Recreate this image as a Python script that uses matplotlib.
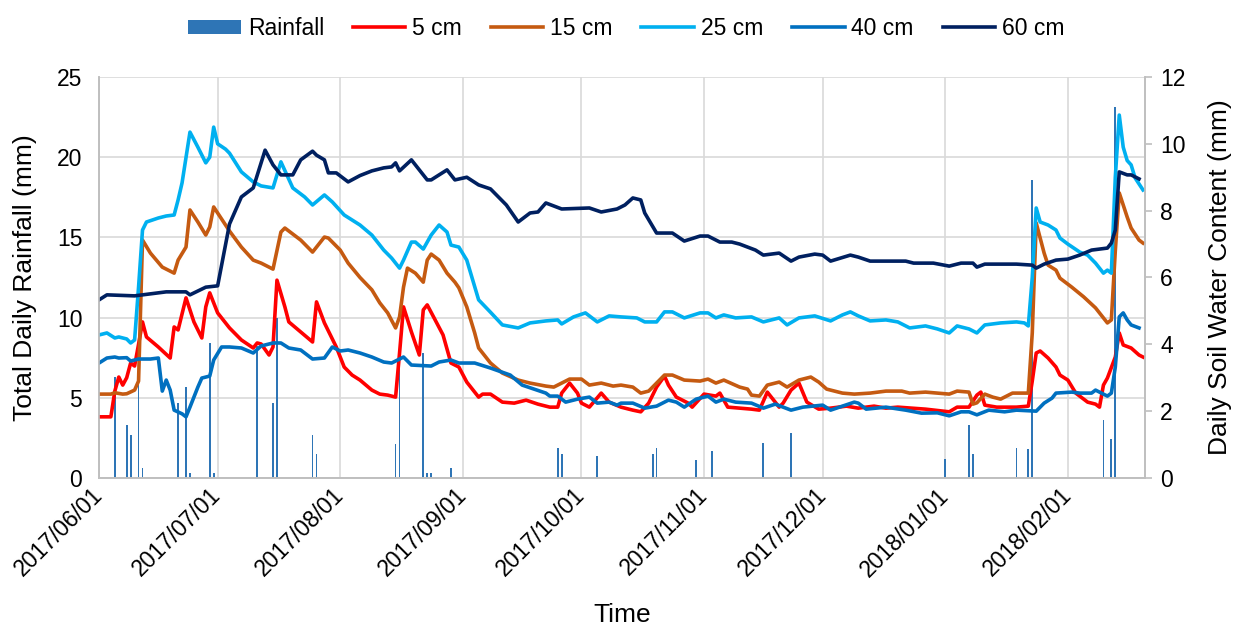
import matplotlib
matplotlib.use('Agg')
import matplotlib.pyplot as plt
import matplotlib.dates as mdates
import numpy as np

plt.rcParams['font.family'] = ['Liberation Sans', 'DejaVu Sans']

start = np.datetime64('2017-06-01')

# Rainfall (mm), day offsets from 2017/06/01
rain_days = [4, 7, 8, 10, 11, 20, 22, 23, 28, 29, 40, 44, 45, 54, 55, 75, 76, 82, 83, 84, 89,
             116, 117, 126, 140, 141, 151, 155, 168, 175, 214, 220, 221, 232, 235, 236, 254, 256, 257]
rain_mm = [6.3, 3.3, 2.7, 6.0, 0.6, 4.7, 5.7, 0.3, 8.4, 0.3, 8.2, 4.7, 10.0, 2.7, 1.5, 2.1, 8.5, 7.8, 0.3, 0.3, 0.6,
           1.9, 1.5, 1.4, 1.5, 1.9, 1.1, 1.7, 2.2, 2.8, 1.2, 3.3, 1.5, 1.9, 1.8, 18.6, 3.6, 2.4, 23.1]

# Soil water content (mm) per depth
d5 = [0, 3, 4, 5, 6, 7, 8, 9, 10, 11, 12, 15, 18, 19, 20, 22, 24, 26, 27, 28, 30, 33, 36, 39, 40, 41, 43, 44,
      45, 47, 48, 51, 54, 55, 57, 60, 62, 64, 66, 69, 71, 73, 75, 76, 77, 79, 81, 82, 83, 85, 87, 89, 91, 93,
      96, 97, 99, 102, 105, 108, 111, 114, 116, 117, 119, 121, 122, 124, 127, 129, 132, 135, 137, 139, 141,
      143, 144, 146, 149, 150, 153, 156, 157, 159, 165, 167, 169, 170, 172, 173, 175, 177, 179, 182, 185,
      189, 192, 196, 199, 202, 209, 215, 217, 220, 222, 223, 224, 227, 232, 235, 236, 237, 238, 240, 242,
      243, 245, 247, 250, 252, 253, 254, 255, 257, 258, 259, 261, 263, 264]
v5 = [1.83, 1.83, 2.6, 3.02, 2.78, 3.0, 3.44, 3.35, 4.0, 4.67, 4.22, 3.92, 3.59, 4.52, 4.43, 5.39, 4.67, 4.19,
      5.12, 5.54, 4.94, 4.49, 4.13, 3.89, 4.04, 4.01, 3.68, 3.92, 5.92, 5.12, 4.67, 4.37, 4.07, 5.27, 4.64,
      3.92, 3.32, 3.08, 2.93, 2.63, 2.51, 2.48, 2.42, 3.74, 5.12, 4.37, 3.68, 5.03, 5.18, 4.73, 4.28, 3.44,
      3.32, 2.87, 2.42, 2.51, 2.51, 2.27, 2.24, 2.33, 2.21, 2.12, 2.12, 2.54, 2.84, 2.54, 2.24, 2.12, 2.54,
      2.27, 2.12, 2.03, 1.98, 2.24, 2.72, 3.05, 2.78, 2.42, 2.24, 2.12, 2.51, 2.45, 2.54, 2.12, 2.06, 2.03,
      2.57, 2.42, 2.12, 2.24, 2.63, 2.84, 2.27, 2.06, 2.09, 2.15, 2.09, 2.15, 2.09, 2.12, 2.06, 1.98, 2.12,
      2.12, 2.48, 2.57, 2.18, 2.12, 2.12, 2.15, 2.9, 3.74, 3.80, 3.59, 3.32, 3.08, 2.93, 2.54, 2.27, 2.21,
      2.12, 2.78, 2.99, 3.62, 4.34, 3.98, 3.89, 3.68, 3.62]

d15 = [0, 3, 4, 6, 7, 9, 10, 11, 13, 16, 19, 20, 22, 23, 25, 27, 28, 29, 30, 33, 36, 39, 41, 44, 46, 47, 51,
       54, 57, 58, 61, 63, 66, 69, 71, 73, 75, 76, 77, 78, 80, 82, 83, 84, 86, 88, 90, 91, 93, 95, 96, 98, 99,
       102, 106, 109, 113, 115, 117, 119, 122, 124, 127, 130, 132, 135, 137, 139, 141, 143, 145, 148, 152,
       154, 156, 158, 162, 164, 165, 167, 169, 172, 174, 177, 180, 182, 184, 188, 191, 195, 199, 203, 205,
       209, 215, 217, 220, 221, 222, 224, 226, 228, 231, 235, 236, 237, 239, 240, 242, 243, 246, 249, 252,
       254, 255, 256, 257, 258, 260, 261, 263, 264]
v15 = [2.51, 2.51, 2.55, 2.51, 2.52, 2.63, 2.9, 7.12, 6.73, 6.31, 6.13, 6.52, 6.91, 8.02, 7.66, 7.27, 7.51,
       8.11, 7.93, 7.39, 6.91, 6.52, 6.43, 6.25, 7.36, 7.48, 7.12, 6.76, 7.21, 7.18, 6.82, 6.43, 6.0, 5.63,
       5.24, 4.94, 4.49, 4.82, 5.71, 6.28, 6.13, 5.86, 6.52, 6.70, 6.52, 6.13, 5.86, 5.69, 5.12, 4.34, 3.89,
       3.59, 3.44, 3.14, 2.93, 2.84, 2.75, 2.72, 2.84, 2.96, 2.96, 2.78, 2.84, 2.75, 2.78, 2.72, 2.54, 2.60,
       2.84, 3.08, 3.08, 2.93, 2.90, 2.96, 2.84, 2.93, 2.72, 2.66, 2.48, 2.45, 2.78, 2.87, 2.72, 2.93, 3.02,
       2.87, 2.66, 2.54, 2.51, 2.54, 2.60, 2.60, 2.54, 2.57, 2.51, 2.60, 2.57, 2.21, 2.25, 2.51, 2.42, 2.36,
       2.54, 2.54, 4.34, 7.63, 6.73, 6.37, 6.22, 5.98, 5.71, 5.42, 5.09, 4.79, 4.64, 4.73, 6.8, 8.53, 7.81,
       7.48, 7.12, 7.03]

d25 = [0, 2, 4, 5, 7, 8, 9, 10, 11, 12, 15, 17, 19, 20, 21, 23, 25, 27, 28, 29, 30, 32, 33, 36, 39, 41, 44,
       46, 49, 52, 54, 57, 59, 62, 66, 69, 72, 74, 76, 77, 79, 80, 82, 84, 86, 88, 89, 91, 93, 96, 99, 102,
       106, 109, 113, 116, 117, 120, 123, 126, 129, 132, 136, 138, 141, 143, 145, 148, 152, 154, 156, 158,
       161, 165, 168, 172, 174, 177, 181, 185, 188, 190, 192, 195, 199, 202, 205, 209, 212, 215, 217, 220,
       222, 224, 228, 232, 234, 235, 236, 237, 238, 240, 242, 243, 245, 248, 250, 252, 254, 255, 256, 257,
       258, 259, 260, 261, 262, 264]
v25 = [4.28, 4.34, 4.19, 4.22, 4.16, 4.04, 4.13, 5.71, 7.42, 7.66, 7.78, 7.84, 7.87, 8.32, 8.83, 10.35, 9.9,
       9.43, 9.6, 10.5, 10.0, 9.84, 9.72, 9.16, 8.86, 8.74, 8.68, 9.46, 8.68, 8.41, 8.17, 8.47, 8.26, 7.87,
       7.57, 7.27, 6.82, 6.58, 6.28, 6.52, 7.06, 7.06, 6.85, 7.27, 7.57, 7.36, 6.97, 6.91, 6.52, 5.33, 4.96,
       4.58, 4.49, 4.64, 4.70, 4.73, 4.61, 4.82, 4.94, 4.67, 4.85, 4.82, 4.79, 4.67, 4.67, 4.97, 4.97, 4.79,
       4.94, 4.94, 4.79, 4.88, 4.79, 4.82, 4.67, 4.79, 4.58, 4.79, 4.85, 4.70, 4.88, 4.97, 4.85, 4.70, 4.73,
       4.67, 4.49, 4.55, 4.46, 4.34, 4.55, 4.46, 4.34, 4.58, 4.64, 4.67, 4.64, 4.55, 6.0, 8.08, 7.66, 7.57,
       7.42, 7.18, 7.0, 6.76, 6.67, 6.43, 6.13, 6.22, 6.13, 9.0, 10.86, 9.9, 9.5, 9.37, 8.98, 8.62]

d40 = [0, 2, 4, 5, 7, 8, 10, 13, 15, 16, 17, 18, 19, 21, 22, 23, 25, 26, 28, 29, 31, 33, 36, 39, 41, 44, 46,
       48, 51, 54, 57, 59, 61, 63, 66, 69, 72, 74, 77, 79, 84, 86, 89, 91, 95, 99, 104, 107, 110, 113, 114,
       116, 118, 121, 124, 126, 129, 131, 132, 135, 138, 141, 144, 146, 148, 151, 154, 156, 158, 161, 165,
       168, 171, 175, 178, 183, 185, 191, 192, 194, 199, 204, 208, 212, 215, 218, 220, 222, 225, 229, 232,
       237, 239, 241, 242, 246, 248, 251, 252, 255, 256, 257, 258, 259, 260, 261, 263]
v40 = [3.44, 3.59, 3.62, 3.59, 3.60, 3.50, 3.56, 3.56, 3.59, 2.6, 2.93, 2.63, 2.03, 1.92, 1.83, 2.12, 2.72,
       2.99, 3.05, 3.53, 3.92, 3.92, 3.89, 3.74, 3.95, 4.04, 4.04, 3.89, 3.83, 3.56, 3.59, 3.92, 3.80, 3.83,
       3.74, 3.62, 3.47, 3.44, 3.62, 3.38, 3.35, 3.47, 3.53, 3.44, 3.44, 3.29, 3.08, 2.78, 2.66, 2.54, 2.45,
       2.45, 2.27, 2.36, 2.42, 2.24, 2.27, 2.18, 2.24, 2.24, 2.09, 2.15, 2.33, 2.27, 2.12, 2.36, 2.45, 2.27,
       2.36, 2.27, 2.24, 2.09, 2.21, 2.03, 2.12, 2.18, 2.03, 2.27, 2.24, 2.06, 2.12, 2.03, 1.94, 1.95, 1.86,
       1.98, 1.98, 1.89, 2.03, 1.98, 2.03, 2.0, 2.24, 2.39, 2.54, 2.57, 2.54, 2.54, 2.63, 2.45, 2.54, 3.32,
       4.82, 4.94, 4.73, 4.58, 4.49]

d60 = [0, 2, 9, 17, 22, 23, 27, 30, 33, 36, 39, 42, 44, 46, 49, 51, 54, 55, 57, 58, 60, 63, 66, 69, 72, 74,
       75, 76, 79, 83, 84, 88, 90, 93, 96, 99, 103, 106, 109, 111, 113, 117, 124, 127, 131, 133, 135, 137,
       138, 141, 145, 148, 152, 154, 157, 160, 162, 164, 166, 168, 172, 175, 177, 181, 183, 185, 190, 192,
       195, 204, 206, 211, 215, 218, 221, 222, 224, 232, 236, 237, 239, 242, 245, 248, 251, 255, 256, 257,
       258, 260, 261, 263]
v60 = [5.33, 5.48, 5.45, 5.57, 5.57, 5.48, 5.71, 5.75, 7.6, 8.41, 8.68, 9.81, 9.37, 9.07, 9.07, 9.52, 9.78,
       9.66, 9.52, 9.13, 9.13, 8.86, 9.05, 9.19, 9.28, 9.31, 9.43, 9.19, 9.52, 8.92, 8.92, 9.22, 8.92, 9.0,
       8.77, 8.65, 8.17, 7.66, 7.93, 7.96, 8.23, 8.05, 8.08, 7.96, 8.05, 8.17, 8.38, 8.32, 7.93, 7.33, 7.33,
       7.09, 7.24, 7.24, 7.06, 7.06, 7.0, 6.91, 6.82, 6.67, 6.73, 6.49, 6.61, 6.70, 6.67, 6.49, 6.67, 6.61,
       6.49, 6.49, 6.43, 6.43, 6.34, 6.43, 6.43, 6.31, 6.40, 6.40, 6.37, 6.28, 6.40, 6.52, 6.55, 6.67, 6.82,
       6.88, 7.03, 7.42, 9.16, 9.07, 9.07, 8.95]

series = [('5 cm', d5, v5, '#FF0000'),
          ('15 cm', d15, v15, '#C55A11'),
          ('25 cm', d25, v25, '#00B0F0'),
          ('40 cm', d40, v40, '#0070C0'),
          ('60 cm', d60, v60, '#002060')]


def to_dates(days):
    return start + np.array(days, dtype='timedelta64[D]')


fig, ax = plt.subplots(figsize=(12.33, 6.3), dpi=100)
fig.subplots_adjust(left=0.0803, right=0.9286, top=0.8778, bottom=0.2413)
ax2 = ax.twinx()

bars = ax.bar(to_dates(rain_days), rain_mm, width=0.45, color='#2E75B6', label='Rainfall')

handles = [bars]
for name, d, v, c in series:
    ln, = ax2.plot(to_dates(d), v, color=c, lw=2.6, label=name, solid_joinstyle='round')
    handles.append(ln)

x0 = mdates.date2num(start)
ax.set_xlim(x0, x0 + 264.5)
ax.set_ylim(0, 25)
ax.set_yticks(range(0, 26, 5))
ax2.set_ylim(0, 12)
ax2.set_yticks(range(0, 13, 2))

ax.xaxis.set_major_locator(mdates.MonthLocator())
ax.xaxis.set_major_formatter(mdates.DateFormatter('%Y/%m/%d'))
for lbl in ax.get_xticklabels():
    lbl.set_rotation(45)
    lbl.set_ha('right')
    lbl.set_va('center')
    lbl.set_rotation_mode('anchor')

ax.grid(True, color='#D9D9D9', lw=1.2)
ax.set_axisbelow(True)

ax.tick_params(axis='x', length=0, pad=10, labelsize=16.5)
ax.tick_params(axis='y', length=0, pad=12, labelsize=16.5)
ax2.tick_params(axis='y', length=5, color='#BFBFBF', width=1.2, pad=6, labelsize=16.5)

for a in (ax, ax2):
    a.spines['top'].set_visible(False)
    for s in ('left', 'right', 'bottom'):
        a.spines[s].set_color('#BFBFBF')
        a.spines[s].set_linewidth(1.2)

ax.set_xlabel('Time', fontsize=19, labelpad=16)
ax.set_ylabel('Total Daily Rainfall (mm)', fontsize=19, labelpad=14)
ax2.set_ylabel('Daily Soil Water Content (mm)', fontsize=19, labelpad=16)

fig.legend(handles=handles, loc='center', bbox_to_anchor=(0.508, 0.955), ncol=6, frameon=False,
           fontsize=16.5, handlelength=2.3, handleheight=0.55, handletextpad=0.3, columnspacing=1.25)

fig.savefig('out.png', dpi=100)
